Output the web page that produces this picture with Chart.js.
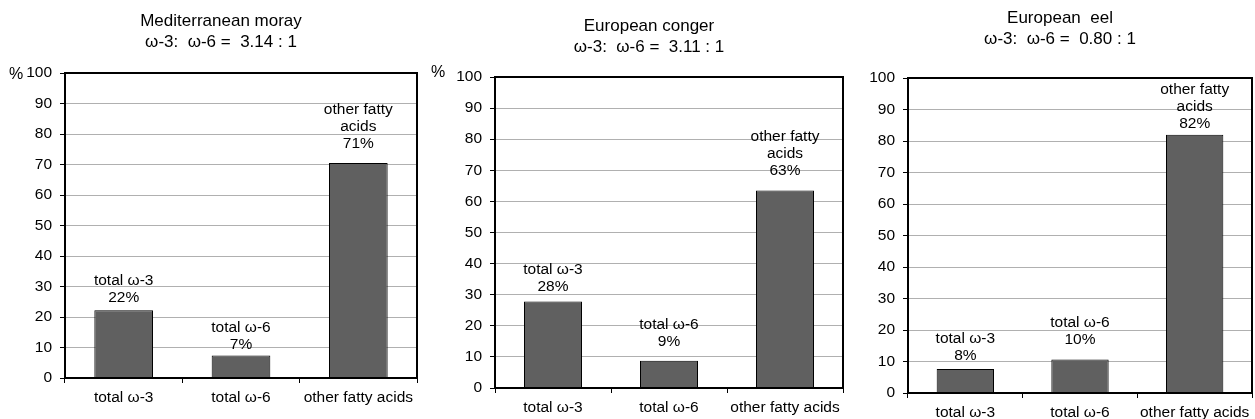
<!DOCTYPE html>
<html>
<head>
<meta charset="utf-8">
<script src="https://cdn.jsdelivr.net/npm/chart.js@4.4.1/dist/chart.umd.min.js"></script>
<style>
  html, body { margin: 0; padding: 0; background: #fff; overflow: hidden; }
  #wrap { position: relative; width: 1255px; height: 419px; overflow: hidden; }
  canvas { position: absolute; top: 0; }
</style>
</head>
<body>
<div id="wrap">
  <canvas id="moray"></canvas>
  <canvas id="conger"></canvas>
  <canvas id="eel"></canvas>
</div>
<script>
// categories shared by the three panels
const categories = ["total ω-3", "total ω-6", "other fatty acids"];
const barNames = [["total ω-3"], ["total ω-6"], ["other fatty", "acids"]];

// % of total fatty acids
const morayValues = [22.2, 7.4, 70.5];
const congerValues = [27.8, 8.8, 63.5];
const eelValues = [7.6, 10.6, 82.0];

// printed labels above the bars
const morayPct = ["22%", "7%", "71%"];
const congerPct = ["28%", "9%", "63%"];
const eelPct = ["8%", "10%", "82%"];

const morayTitle = ["Mediterranean moray", "ω-3:  ω-6 =  3.14 : 1"];
const congerTitle = ["European conger", "ω-3:  ω-6 =  3.11 : 1"];
const eelTitle = ["European  eel", "ω-3:  ω-6 =  0.80 : 1"];

// y axis ticks
const yMin = 0;
const yMax = 100;
const yStep = 10;

const FONT = "'Liberation Sans', Arial, sans-serif";
Chart.defaults.font.family = FONT;
Chart.defaults.color = "#000";

// frame around the plot area + labels over the bars + "%" unit
const extras = {
    id: "extras",
    afterDatasetsDraw(chart, args, opts) {
        const ctx = chart.ctx;
        const area = chart.chartArea;
        ctx.save();
        ctx.strokeStyle = "#000";
        ctx.lineWidth = 2;
        ctx.strokeRect(area.left, area.top, area.right - area.left, area.bottom - area.top);

        ctx.font = "15.5px " + FONT;
        ctx.fillStyle = "#000";
        ctx.textAlign = "center";
        ctx.textBaseline = "middle";
        const bars = chart.getDatasetMeta(0).data;
        bars.forEach((bar, i) => {
            const lines = barNames[i].concat([opts.pct[i]]);
            let y = bar.y - opts.gaps[i];
            for (let k = lines.length - 1; k >= 0; k--) {
                ctx.fillText(lines[k], bar.x, y);
                y -= 17;
            }
        });

        if (opts.unit) {
            ctx.font = "16px " + FONT;
            ctx.fillText("%", area.left + opts.unit[0], area.top + opts.unit[1]);
        }
        ctx.restore();
    }
};

function makePanel(id, cfg) {
    const canvas = document.getElementById(id);
    canvas.width = cfg.w;
    canvas.height = 419;
    canvas.style.left = cfg.x + "px";

    return new Chart(canvas, {
        type: "bar",
        data: {
            labels: categories,
            datasets: [{
                data: cfg.values,
                backgroundColor: "#606060",
                borderColor: "#000",
                borderWidth: 1,
                categoryPercentage: 1,
                barPercentage: 0.5
            }]
        },
        options: {
            responsive: false,
            animation: false,
            layout: {
                padding: { left: cfg.padLeft, right: cfg.padRight, top: 0, bottom: cfg.padBottom }
            },
            plugins: {
                legend: { display: false },
                tooltip: { enabled: false },
                title: {
                    display: true,
                    text: cfg.title,
                    font: { size: 17, weight: "normal", lineHeight: 21 / 17 },
                    color: "#000",
                    padding: { top: cfg.titleTop, bottom: cfg.titleBottom }
                },
                extras: { pct: cfg.pct, gaps: cfg.gaps, unit: cfg.unit }
            },
            scales: {
                x: {
                    afterFit(scale) { scale.height = cfg.xh; },
                    grid: { drawOnChartArea: false, tickLength: 5, tickColor: "#000" },
                    border: { color: "#000", width: 2 },
                    ticks: { font: { size: 15.5 }, padding: 5, maxRotation: 0, color: "#000" }
                },
                y: {
                    min: yMin,
                    max: yMax,
                    afterFit(scale) { scale.width = 40; },
                    grid: { color: "#b0b0b0", lineWidth: 1, tickLength: 5, tickColor: "#000" },
                    border: { color: "#000", width: 2 },
                    ticks: { stepSize: yStep, font: { size: 15.5 }, padding: 8, color: "#000" }
                }
            }
        },
        plugins: [extras]
    });
}

makePanel("moray", {
    x: 0, w: 486, padLeft: 25, padRight: 69, padBottom: 5, xh: 36,
    titleTop: 10.5, titleBottom: 20.5, title: morayTitle,
    values: morayValues, pct: morayPct, gaps: [13, 11, 19], unit: [-49, 2]
});

makePanel("conger", {
    x: 425, w: 510, padLeft: 30, padRight: 92, padBottom: 0, xh: 31,
    titleTop: 15.5, titleBottom: 19.5, title: congerTitle,
    values: congerValues, pct: congerPct, gaps: [15, 19, 20], unit: [-57, -4]
});

makePanel("eel", {
    x: 868, w: 428, padLeft: 0, padRight: 44, padBottom: 0, xh: 26,
    titleTop: 7.5, titleBottom: 28.5, title: eelTitle,
    values: eelValues, pct: eelPct, gaps: [13, 20, 11], unit: null
});
</script>
</body>
</html>
